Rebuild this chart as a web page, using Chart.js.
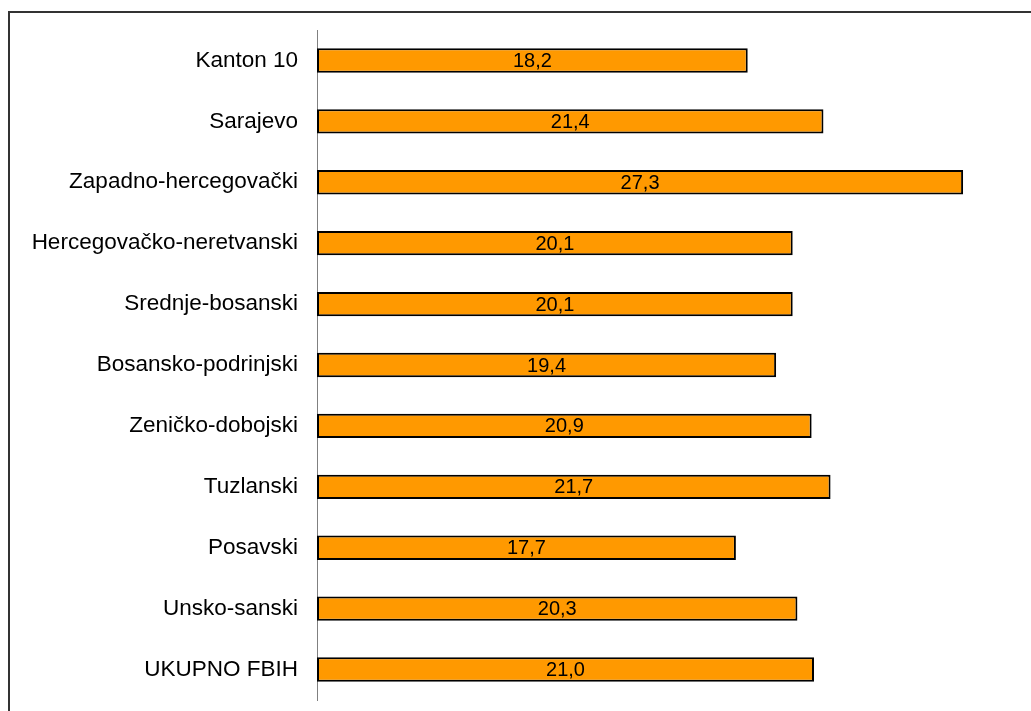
<!DOCTYPE html>
<html>
<head>
<meta charset="utf-8">
<script src="https://cdn.jsdelivr.net/npm/chart.js@4"></script>
<style>
  html, body { margin: 0; padding: 0; background: #fff; }
  #wrap { position: relative; width: 1031px; height: 711px; }
</style>
</head>
<body>
<div id="wrap"><canvas id="myChart" width="1031" height="711"></canvas></div>
<script>
'use strict';

let cantons = ['Kanton 10', 'Sarajevo', 'Zapadno-hercegovački', 'Hercegovačko-neretvanski',
    'Srednje-bosanski', 'Bosansko-podrinjski', 'Zeničko-dobojski', 'Tuzlanski',
    'Posavski', 'Unsko-sanski', 'UKUPNO FBIH'];
let values = [18.2, 21.4, 27.3, 20.1, 20.1, 19.4, 20.9, 21.7, 17.7, 20.3, 21.0];
let xMin = 0;
let xMax = 30;

// frame around the chart (top and left edge only, like the original)
let framePlugin = {
    id: 'frame',
    beforeDraw(chart) {
        let ctx = chart.ctx;
        ctx.save();
        ctx.strokeStyle = '#333333';
        ctx.lineWidth = 2;
        ctx.beginPath();
        ctx.moveTo(9, chart.height);
        ctx.lineTo(9, 12);
        ctx.lineTo(chart.width, 12);
        ctx.stroke();
        ctx.restore();
    }
};

// value written in the middle of each bar
let valueLabels = {
    id: 'valueLabels',
    afterDatasetsDraw(chart) {
        let ctx = chart.ctx;
        let meta = chart.getDatasetMeta(0);
        ctx.save();
        ctx.font = '20px "Liberation Sans", Arial, sans-serif';
        ctx.fillStyle = '#000';
        ctx.textAlign = 'center';
        ctx.textBaseline = 'middle';
        meta.data.forEach(function (bar, i) {
            let txt = values[i].toFixed(1).replace('.', ',');
            ctx.fillText(txt, (bar.x + bar.base) / 2, bar.y + 1);
        });
        ctx.restore();
    }
};

let ctx = document.getElementById('myChart').getContext('2d');
let myChart = new Chart(ctx, {
    type: 'bar',
    data: {
        labels: cantons,
        datasets: [{
            data: values,
            backgroundColor: '#FF9900',
            borderColor: '#000000',
            borderWidth: 2,
            borderSkipped: false,
            barPercentage: 0.4,
            categoryPercentage: 1.0
        }]
    },
    options: {
        indexAxis: 'y',
        responsive: false,
        animation: false,
        layout: { padding: { top: 30, bottom: 11, left: 0, right: 4 } },
        plugins: {
            legend: { display: false },
            tooltip: { enabled: false }
        },
        scales: {
            x: {
                display: false,
                min: xMin,
                max: xMax
            },
            y: {
                afterFit(scale) {
                    scale.width = 317;
                    scale.paddingTop = 0;
                    scale.paddingBottom = 0;
                },
                grid: { display: false, drawTicks: false },
                border: { display: true, color: '#808080', width: 1 },
                ticks: {
                    color: '#000',
                    padding: 19,
                    font: { family: '"Liberation Sans", Arial, sans-serif', size: 22.5 }
                }
            }
        }
    },
    plugins: [framePlugin, valueLabels]
});
</script>
</body>
</html>
